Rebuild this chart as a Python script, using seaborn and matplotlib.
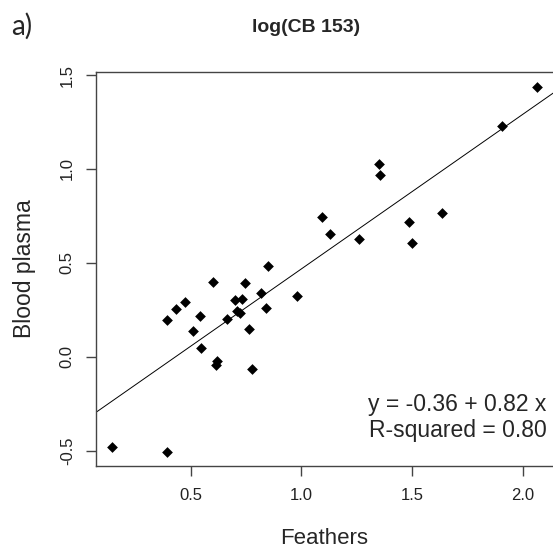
import numpy as np
import pandas as pd
import matplotlib
matplotlib.use("Agg")
import matplotlib.pyplot as plt
import seaborn as sns

# log(CB 153) in feathers vs blood plasma
feathers = [0.146, 0.393, 0.392, 0.432, 0.473, 0.542, 0.511, 0.547, 0.600, 0.618,
            0.613, 0.663, 0.700, 0.732, 0.708, 0.725, 0.747, 0.765, 0.776, 0.816,
            0.840, 0.851, 0.979, 1.092, 1.130, 1.262, 1.353, 1.356, 1.487, 1.502,
            1.637, 1.908, 2.067]
plasma = [-0.479, -0.506, 0.194, 0.254, 0.291, 0.215, 0.137, 0.045, 0.398, -0.025,
          -0.044, 0.202, 0.304, 0.309, 0.245, 0.233, 0.394, 0.149, -0.067, 0.338,
          0.258, 0.481, 0.323, 0.744, 0.653, 0.625, 1.028, 0.968, 0.716, 0.607,
          0.765, 1.228, 1.438]

x_ticks = [0.5, 1.0, 1.5, 2.0]
y_ticks = [-0.5, 0.0, 0.5, 1.0, 1.5]

df = pd.DataFrame({"Feathers": feathers, "Blood plasma": plasma})

sns.set_style("white")
plt.rcParams["font.family"] = ["Liberation Sans", "DejaVu Sans"]

fig = plt.figure(figsize=(5.53, 5.48), dpi=100)
ax = fig.add_axes([0.173, 0.1496, 0.830, 0.719])

sns.regplot(data=df, x="Feathers", y="Blood plasma", ax=ax, ci=None, truncate=False,
            marker="D", scatter_kws={"s": 30, "color": "black", "alpha": 1,
                                     "linewidths": 0},
            line_kws={"color": "black", "lw": 0.7})

ax.set_xlim(0.071, 2.145)
ax.set_ylim(-0.582, 1.516)
ax.set_xticks(x_ticks)
ax.set_yticks(y_ticks)
ax.set_xticklabels([f"{v:.1f}" for v in x_ticks], fontsize=12, color="#222222")
ax.set_yticklabels([f"{v:.1f}" for v in y_ticks], fontsize=12, color="#222222",
                   rotation=90, va="center")
ax.tick_params(axis="both", direction="out", length=7, width=1, color="#444444",
               left=True, bottom=True)
ax.tick_params(axis="x", pad=9)
ax.tick_params(axis="y", pad=8)
for s in ax.spines.values():
    s.set_color("#444444")
    s.set_linewidth(1)

ax.set_xlabel("Feathers", fontsize=16, va="center")
ax.set_ylabel("Blood plasma", fontsize=16.5, va="center")
ax.xaxis.set_label_coords(0.497, -0.183)
ax.yaxis.set_label_coords(-0.154, 0.5)

ax.text(0.982, 0.155, "y = -0.36 + 0.82 x", transform=ax.transAxes, ha="right",
        va="center", fontsize=16.5)
ax.text(0.982, 0.091, "R-squared = 0.80", transform=ax.transAxes, ha="right",
        va="center", fontsize=16.5)

fig.text(306 / 553, 1 - 28 / 548, "log(CB 153)", ha="center", va="center",
         fontsize=14, fontweight="bold")
fig.text(11 / 553, 1 - 26 / 548, "a)", ha="left", va="center", fontsize=20,
         family=["Lato", "DejaVu Sans"])

fig.savefig("out.png", dpi=100)
